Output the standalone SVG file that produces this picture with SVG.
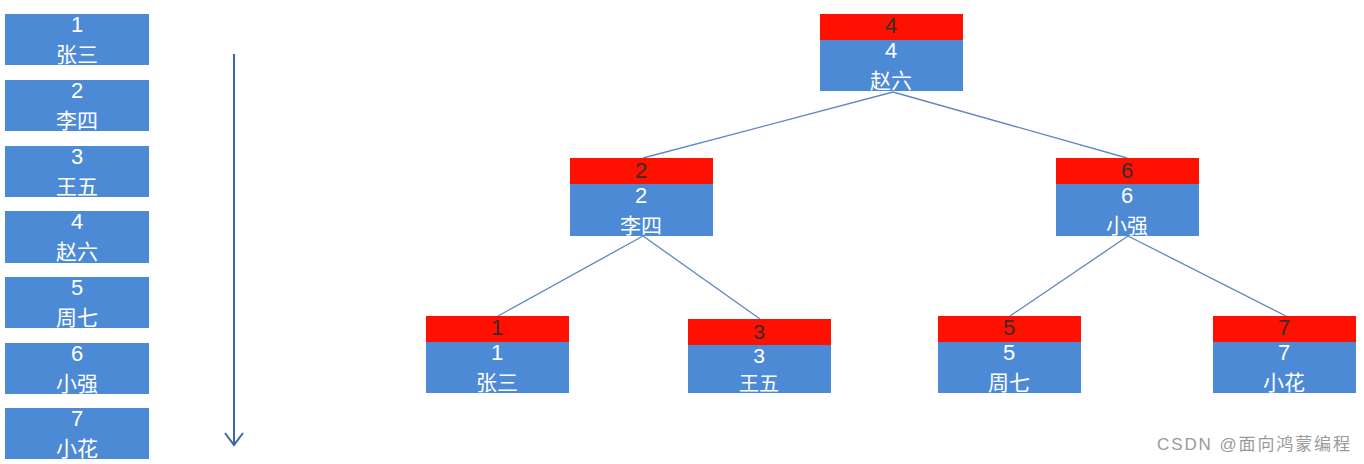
<svg xmlns="http://www.w3.org/2000/svg" width="1364" height="464" viewBox="0 0 1364 464">
<style>
.b{fill:#4d8ad5}
.r{fill:#fe1100}
.t{text-anchor:middle;fill:#fff}
.n{font-family:"Liberation Sans","Noto Sans",sans-serif;font-size:22px}
.h{font-family:"Noto Sans CJK SC","Noto Sans",sans-serif;font-size:21px}
.s{font-size:21px}
.s2{font-size:20px}
.d{fill:#3a2a2a}
.c{stroke:#5e87c3;stroke-width:1.3;fill:none}
.w{font-family:"Liberation Sans","Noto Sans CJK SC",sans-serif;font-size:17px;fill:#9a9a9a}
</style>
<defs>
<marker id="ah" viewBox="0 0 20 20" refX="18" refY="10" markerWidth="20" markerHeight="20" markerUnits="userSpaceOnUse" orient="auto">
<path d="M6,1 L18,10 L6,19" fill="none" stroke="#3a66a8" stroke-width="2"/>
</marker>
</defs>
<g id="list">
<g id="l1"><rect class="b" x="5" y="14" width="144" height="51"/><text class="t n" x="77" y="32">1</text><text class="t h" x="77" y="62">张三</text></g>
<g id="l2"><rect class="b" x="5" y="80" width="144" height="51"/><text class="t n" x="77" y="98">2</text><text class="t h" x="77" y="128">李四</text></g>
<g id="l3"><rect class="b" x="5" y="146" width="144" height="51"/><text class="t n" x="77" y="164">3</text><text class="t h" x="77" y="194">王五</text></g>
<g id="l4"><rect class="b" x="5" y="211" width="144" height="52"/><text class="t n" x="77" y="229">4</text><text class="t h" x="77" y="259">赵六</text></g>
<g id="l5"><rect class="b" x="5" y="277" width="144" height="51"/><text class="t n" x="77" y="295">5</text><text class="t h" x="77" y="325">周七</text></g>
<g id="l6"><rect class="b" x="5" y="343" width="144" height="51"/><text class="t n" x="77" y="361">6</text><text class="t h" x="77" y="391">小强</text></g>
<g id="l7"><rect class="b" x="5" y="408" width="144" height="51"/><text class="t n" x="77" y="426">7</text><text class="t h" x="77" y="456">小花</text></g>
</g>
<g id="connectors">
<line x1="234" y1="54" x2="234" y2="445" stroke="#3a66a8" stroke-width="2" marker-end="url(#ah)"/>
<line class="c" x1="893" y1="92" x2="643" y2="158"/>
<line class="c" x1="893" y1="92" x2="1127" y2="158"/>
<line class="c" x1="643" y1="236" x2="498" y2="316"/>
<line class="c" x1="643" y1="236" x2="760" y2="319"/>
<line class="c" x1="1128" y1="236" x2="1010" y2="316"/>
<line class="c" x1="1128" y1="236" x2="1286" y2="316"/>
</g>
<g id="n4"><rect class="r" x="820" y="14" width="143" height="26"/><rect class="b" x="820" y="40" width="143" height="51"/><text class="t n d" x="891" y="33">4</text><text class="t n" x="891" y="58">4</text><text class="t h" x="891" y="88">赵六</text></g>
<g id="n2"><rect class="r" x="570" y="158" width="143" height="26"/><rect class="b" x="570" y="184" width="143" height="52"/><text class="t n d" x="641" y="178">2</text><text class="t n" x="641" y="203">2</text><text class="t h" x="641" y="233">李四</text></g>
<g id="n6"><rect class="r" x="1056" y="158" width="143" height="26"/><rect class="b" x="1056" y="184" width="143" height="52"/><text class="t n d" x="1127" y="178">6</text><text class="t n" x="1127" y="203">6</text><text class="t h" x="1127" y="233">小强</text></g>
<g id="n1"><rect class="r" x="426" y="316" width="143" height="26"/><rect class="b" x="426" y="342" width="143" height="51"/><text class="t n d" x="497" y="335">1</text><text class="t n" x="497" y="360">1</text><text class="t h" x="497" y="390">张三</text></g>
<g id="n3"><rect class="r" x="688" y="319" width="143" height="26"/><rect class="b" x="688" y="345" width="143" height="48"/><text class="t n d s" x="759" y="339">3</text><text class="t n s" x="759" y="363">3</text><text class="t h s2" x="759" y="391">王五</text></g>
<g id="n5"><rect class="r" x="938" y="316" width="143" height="26"/><rect class="b" x="938" y="342" width="143" height="51"/><text class="t n d" x="1009" y="335">5</text><text class="t n" x="1009" y="360">5</text><text class="t h" x="1009" y="390">周七</text></g>
<g id="n7"><rect class="r" x="1213" y="316" width="143" height="26"/><rect class="b" x="1213" y="342" width="143" height="51"/><text class="t n d" x="1284" y="335">7</text><text class="t n" x="1284" y="360">7</text><text class="t h" x="1284" y="390">小花</text></g>
<text class="w" x="1157" y="450" textLength="193" lengthAdjust="spacing">CSDN @面向鸿蒙编程</text>
</svg>
